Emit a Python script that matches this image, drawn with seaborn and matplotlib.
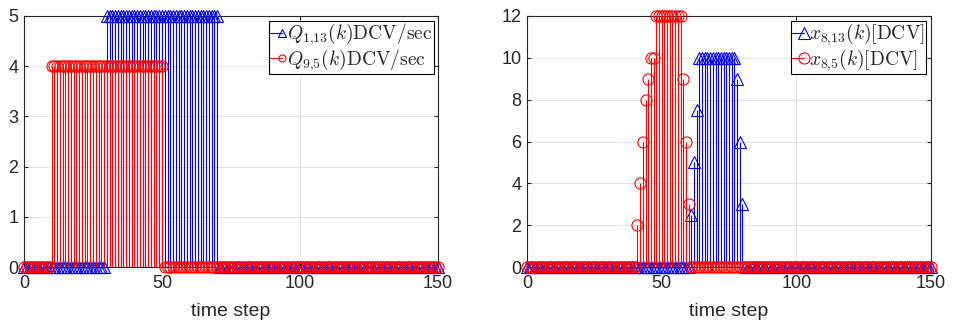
import numpy as np
import matplotlib
matplotlib.use("Agg")
import matplotlib.pyplot as plt
import seaborn as sns
from matplotlib.lines import Line2D
from matplotlib.legend_handler import HandlerBase

# ---- data ----
k = list(range(0, 151))
q1_13 = [0] * 30 + [5] * 41 + [0] * 80
q9_5 = [0] * 10 + [4] * 41 + [0] * 100
x8_13 = [0] * 61 + [2.5, 5, 7.5] + [10] * 14 + [9, 6, 3] + [0] * 70
x8_5 = [0] * 41 + [2, 4, 6, 8, 9, 10, 10] + [12] * 10 + [9, 6, 3] + [0] * 90

left_labels = [r"$Q_{1{,}13}(k)\mathrm{DCV}/\mathrm{sec}$", r"$Q_{9{,}5}(k)\mathrm{DCV}/\mathrm{sec}$"]
right_labels = [r"$x_{8{,}13}(k)[\mathrm{DCV}]$", r"$x_{8{,}5}(k)[\mathrm{DCV}]$"]
x_ticks = [0, 50, 100, 150]
left_yticks = [0, 1, 2, 3, 4, 5]
right_yticks = [0, 2, 4, 6, 8, 10, 12]
xlabel = "time step"

sns.set_theme(style="whitegrid")
plt.rcParams["font.family"] = ["Liberation Sans", "DejaVu Sans"]
plt.rcParams["mathtext.fontset"] = "cm"

BLUE = (0, 0, 1)
RED = (1, 0, 0)
DARK = "#262626"

fig = plt.figure(figsize=(9.56, 3.23), dpi=100)
ax1 = fig.add_axes([24 / 956, 56 / 323, (438 - 24) / 956, 251 / 323])
ax2 = fig.add_axes([527 / 956, 56 / 323, (931 - 527) / 956, 251 / 323])


def stem(ax, x, y, color, marker, ms):
    ml, sl, bl = ax.stem(x, y, linefmt="-", markerfmt=marker, basefmt=" ")
    sl.set_color(color)
    sl.set_linewidth(0.8)
    ml.set_markerfacecolor("none")
    ml.set_markeredgecolor(color)
    ml.set_markersize(ms)
    ml.set_markeredgewidth(0.8)
    ml.set_clip_on(False)
    ml.set_zorder(3)
    sl.set_zorder(3)
    return ml


class StemHandler(HandlerBase):
    def __init__(self, color, marker, ms):
        super().__init__()
        self.color, self.marker, self.ms = color, marker, ms

    def create_artists(self, legend, orig_handle, xdescent, ydescent, width,
                       height, fontsize, trans):
        y = height / 2 - ydescent
        xe = width - xdescent - 3
        line = Line2D([-xdescent, xe], [y, y],
                      color=self.color, lw=0.8, transform=trans)
        mk = Line2D([xe], [y], marker=self.marker,
                    markersize=self.ms, markerfacecolor="none",
                    markeredgecolor=self.color, markeredgewidth=0.8,
                    linestyle="none", transform=trans)
        return [line, mk]


def style(ax, ylim, yticks):
    ax.set_xlim(0, 150)
    ax.set_ylim(*ylim)
    ax.set_xticks(x_ticks)
    ax.set_yticks(yticks)
    ax.set_facecolor("white")
    ax.grid(True, color="#e3e3e3", linewidth=0.8)
    ax.set_axisbelow(True)
    for s in ax.spines.values():
        s.set_color(DARK)
        s.set_linewidth(0.8)
        s.set_visible(True)
        s.set_zorder(2)
    ax.tick_params(direction="in", length=3, width=0.8, color=DARK,
                   top=True, right=True, bottom=True, left=True,
                   labelsize=13, labelcolor=DARK)
    ax.tick_params(axis="x", pad=6)
    ax.tick_params(axis="y", pad=4)
    ax.set_xlabel(xlabel, fontsize=14, color=DARK, labelpad=8)


def legend(ax, labels, anchor, cfg):
    hs = [Line2D([], []), Line2D([], [])]
    leg = ax.legend(hs, labels, loc="upper right", bbox_to_anchor=anchor,
                    fontsize=14,
                    handler_map={hs[0]: StemHandler(BLUE, "^", cfg[0]),
                                 hs[1]: StemHandler(RED, "o", cfg[1])},
                    handlelength=0.85, handletextpad=0.05, borderpad=0.05,
                    labelspacing=0.0, fancybox=False, framealpha=1,
                    borderaxespad=0)
    leg.get_frame().set_edgecolor("black")
    leg.get_frame().set_linewidth(0.8)
    return leg


stem(ax1, k, q1_13, BLUE, "^", 9)
stem(ax1, k, q9_5, RED, "o", 8)
style(ax1, (0, 5), left_yticks)
legend(ax1, left_labels, (0.99, 0.982), (6, 5))

stem(ax2, k, x8_13, BLUE, "^", 9)
stem(ax2, k, x8_5, RED, "o", 8)
style(ax2, (0, 12), right_yticks)
legend(ax2, right_labels, (0.987, 0.982), (8, 8))

fig.savefig("out.png", dpi=100, facecolor="white")
